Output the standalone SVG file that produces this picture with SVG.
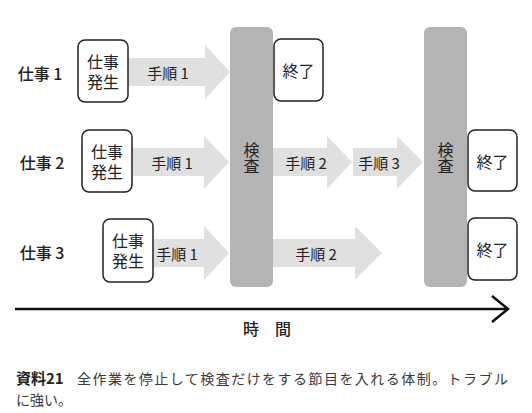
<svg xmlns="http://www.w3.org/2000/svg" width="532" height="413" viewBox="0 0 532 413">
<style>
.bg{fill:#ffffff}
.t{font-family:"Noto Sans CJK JP","Liberation Sans",sans-serif;fill:#222;text-anchor:middle;dominant-baseline:central}
.lbl{font-size:16px;font-weight:500}
.nt{font-size:16px}
.st{font-size:15px}
.vt{font-family:"Noto Sans CJK JP","Liberation Sans",sans-serif;fill:#222;font-size:16px;writing-mode:vertical-rl;text-anchor:middle}
.box{fill:#ffffff;stroke:#222;stroke-width:1.5}
.bar{fill:#b4b4b4}
.arr{fill:#e0e0e0}
.cap{font-family:"Noto Sans CJK JP","Liberation Serif",serif;font-size:14px;fill:#3a3a3a}
.capb{font-family:"Noto Sans CJK JP","Liberation Sans",sans-serif;font-size:15px;font-weight:bold;fill:#222}
</style>
<rect class="bg" x="0" y="0" width="532" height="413"/>

<g id="connectors">
  <polygon class="arr" points="128,58 205,58 205,45 230,72 205,99 205,86 128,86"/>
  <polygon class="arr" points="132,148 204,148 204,136 229,162 204,189 204,176 132,176"/>
  <polygon class="arr" points="273,148 327,148 327,136 352,162 327,189 327,176 273,176"/>
  <polygon class="arr" points="353,148 397,148 397,136 423,162 397,189 397,176 353,176"/>
  <polygon class="arr" points="153,239 204,239 204,226 229,253 204,280 204,267 153,267"/>
  <polygon class="arr" points="273,239 355,239 355,226 382,253 355,280 355,267 273,267"/>
  <text class="t st" x="168" y="72">手順 1</text>
  <text class="t st" x="172" y="162">手順 1</text>
  <text class="t st" x="306" y="162">手順 2</text>
  <text class="t st" x="379" y="162">手順 3</text>
  <text class="t st" x="177" y="253">手順 1</text>
  <text class="t st" x="316" y="253">手順 2</text>
</g>

<g id="row-labels">
  <text class="t lbl" x="40" y="73">仕事 1</text>
  <text class="t lbl" x="42" y="162">仕事 2</text>
  <text class="t lbl" x="42" y="252">仕事 3</text>
</g>

<g id="inspect1">
  <rect class="bar" x="230" y="27" width="43" height="260" rx="6"/>
  <text class="vt" x="251.5" y="158">検査</text>
</g>
<g id="inspect2">
  <rect class="bar" x="424" y="27" width="43" height="260" rx="6"/>
  <text class="vt" x="445.5" y="158">検査</text>
</g>

<g id="start1">
  <rect class="box" x="78" y="40" width="50" height="62" rx="7"/>
  <text class="t nt" x="103" y="61">仕事<tspan x="103" dy="20">発生</tspan></text>
</g>
<g id="start2">
  <rect class="box" x="82" y="130" width="50" height="62" rx="7"/>
  <text class="t nt" x="107" y="151">仕事<tspan x="107" dy="20">発生</tspan></text>
</g>
<g id="start3">
  <rect class="box" x="103" y="219" width="50" height="63" rx="7"/>
  <text class="t nt" x="128" y="240">仕事<tspan x="128" dy="20">発生</tspan></text>
</g>

<g id="end1">
  <rect class="box" x="274" y="39" width="49" height="62" rx="7"/>
  <text class="t nt" x="298.5" y="70">終了</text>
</g>
<g id="end2">
  <rect class="box" x="468" y="130" width="49" height="61" rx="7"/>
  <text class="t nt" x="492.5" y="161">終了</text>
</g>
<g id="end3">
  <rect class="box" x="468" y="218" width="49" height="62" rx="7"/>
  <text class="t nt" x="492.5" y="249">終了</text>
</g>

<g id="timeline">
  <line x1="15" y1="309" x2="507" y2="309" stroke="#111" stroke-width="2.5"/>
  <polyline points="492,296 508,309 492,322" fill="none" stroke="#111" stroke-width="2.5" stroke-linejoin="miter"/>
  <text class="t lbl" x="267" y="328">時　間</text>
</g>

<g id="caption">
  <text class="capb" x="16" y="384">資料21</text>
  <text class="cap" x="77" y="384" textLength="431" lengthAdjust="spacing">全作業を停止して検査だけをする節目を入れる体制。トラブル</text>
  <text class="cap" x="16" y="405">に強い。</text>
</g>
</svg>
